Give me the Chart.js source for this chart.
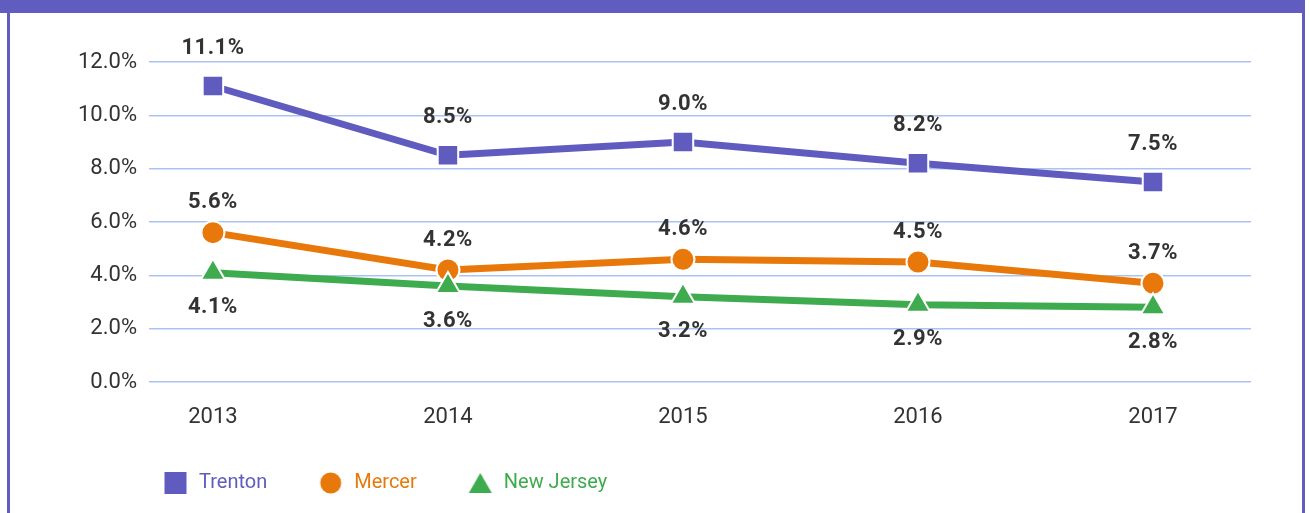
<!DOCTYPE html>
<html>
<head>
<meta charset="utf-8">
<script src="https://cdn.jsdelivr.net/npm/chart.js@4"></script>
<style>
    html, body { margin: 0; padding: 0; background: #fff; overflow: hidden; }
    #banda { position: absolute; left: 0; top: 0; width: 1305px; height: 13px; background: #615dc0; }
    #bordeIzq { position: absolute; left: 7px; top: 0; width: 3px; height: 513px; background: #615dc0; }
    #bordeDer { position: absolute; left: 1302px; top: 0; width: 3px; height: 513px; background: #615dc0; }
    #grafico { position: absolute; left: 0; top: 0; }
</style>
</head>
<body>
<div id="banda"></div>
<div id="bordeIzq"></div>
<div id="bordeDer"></div>
<canvas id="grafico" width="1310" height="513"></canvas>
<script>
const anios = [2013, 2014, 2015, 2016, 2017];
const trenton = [11.1, 8.5, 9.0, 8.2, 7.5];
const mercer = [5.6, 4.2, 4.6, 4.5, 3.7];
const nuevaJersey = [4.1, 3.6, 3.2, 2.9, 2.8];
const ticksY = [0, 2, 4, 6, 8, 10, 12];
const nombres = ["Trenton", "Mercer", "New Jersey"];

const MORADO = "#5f5bbf";
const NARANJA = "#e8780a";
const VERDE = "#3eab4f";

// iconos de la leyenda
function crearIcono(forma, color) {
    const c = document.createElement("canvas");
    c.width = 26;
    c.height = 26;
    const ctx = c.getContext("2d");
    ctx.fillStyle = color;
    if (forma === "cuadrado") {
        ctx.fillRect(2, 2, 22, 22);
    } else if (forma === "circulo") {
        ctx.beginPath();
        ctx.arc(13, 13, 10.5, 0, Math.PI * 2);
        ctx.fill();
    } else {
        ctx.beginPath();
        ctx.moveTo(13, 3);
        ctx.lineTo(24.5, 23);
        ctx.lineTo(1.5, 23);
        ctx.closePath();
        ctx.fill();
    }
    return c;
}

const iconos = [
    crearIcono("cuadrado", MORADO),
    crearIcono("circulo", NARANJA),
    crearIcono("triangulo", VERDE)
];

function puntos(valores) {
    return anios.map((anio, i) => ({ x: anio, y: valores[i] }));
}

const desplazamientos = [-38, -30, 35];

const etiquetasDatos = {
    id: "etiquetasDatos",
    afterDatasetsDraw(chart) {
        const ctx = chart.ctx;
        ctx.save();
        ctx.font = "bold 22px Roboto";
        ctx.letterSpacing = "0.5px";
        ctx.fillStyle = "#333333";
        ctx.textAlign = "center";
        ctx.textBaseline = "middle";
        chart.data.datasets.forEach((ds, i) => {
            const meta = chart.getDatasetMeta(i);
            meta.data.forEach((punto, j) => {
                const valor = ds.data[j].y;
                ctx.fillText(valor.toFixed(1) + "%", punto.x, punto.y + desplazamientos[i]);
            });
        });
        ctx.restore();
    }
};

// la leyenda empieza mas a la derecha que el borde del lienzo
const moverLeyenda = {
    id: "moverLeyenda",
    afterLayout(chart) {
        chart.legend.left = 112;
    }
};

new Chart(document.getElementById("grafico"), {
    type: "line",
    data: {
        datasets: [
            {
                label: nombres[0],
                data: puntos(trenton),
                borderColor: MORADO,
                backgroundColor: MORADO,
                borderWidth: 7,
                pointStyle: "rect",
                pointRadius: 14.5,
                pointBorderColor: "#ffffff",
                pointBorderWidth: 2,
                order: 2
            },
            {
                label: nombres[1],
                data: puntos(mercer),
                borderColor: NARANJA,
                backgroundColor: NARANJA,
                borderWidth: 7,
                pointStyle: "circle",
                pointRadius: 11.5,
                pointBorderColor: "#ffffff",
                pointBorderWidth: 2,
                order: 1
            },
            {
                label: nombres[2],
                data: puntos(nuevaJersey),
                borderColor: VERDE,
                backgroundColor: VERDE,
                borderWidth: 7,
                pointStyle: "triangle",
                pointRadius: 14,
                pointBorderColor: "#ffffff",
                pointBorderWidth: 2,
                order: 0
            }
        ]
    },
    options: {
        responsive: false,
        animation: false,
        layout: {
            padding: { left: 0, right: 59, top: 62, bottom: 10 }
        },
        plugins: {
            tooltip: { enabled: false },
            legend: {
                position: "bottom",
                align: "start",
                labels: {
                    usePointStyle: true,
                    pointStyleWidth: 27,
                    padding: 50,
                    font: { family: "Roboto", size: 20 },
                    generateLabels: chart => chart.data.datasets.map((ds, i) => ({
                        text: ds.label,
                        fillStyle: ds.backgroundColor,
                        strokeStyle: ds.backgroundColor,
                        lineWidth: 0,
                        pointStyle: iconos[i],
                        fontColor: ds.borderColor,
                        hidden: false,
                        datasetIndex: i
                    }))
                }
            }
        },
        scales: {
            x: {
                type: "linear",
                min: 2012.728,
                max: 2017.417,
                grid: { display: false, drawTicks: false },
                border: { display: false },
                afterBuildTicks: scale => {
                    scale.ticks = anios.map(v => ({ value: v }));
                },
                afterFit: scale => {
                    scale.height = 41;
                },
                ticks: {
                    padding: 22,
                    color: "#333333",
                    font: { family: "Roboto", size: 22 },
                    callback: v => String(v)
                }
            },
            y: {
                min: 0,
                max: 12,
                grid: { color: "#a9c4f2", lineWidth: 1.5, drawTicks: false },
                border: { display: false },
                afterBuildTicks: scale => {
                    scale.ticks = ticksY.map(v => ({ value: v }));
                },
                afterFit: scale => {
                    scale.width = 149;
                },
                ticks: {
                    padding: 12,
                    color: "#333333",
                    font: { family: "Roboto", size: 22 },
                    callback: v => v.toFixed(1) + "%"
                }
            }
        }
    },
    plugins: [etiquetasDatos, moverLeyenda]
});
</script>
</body>
</html>
